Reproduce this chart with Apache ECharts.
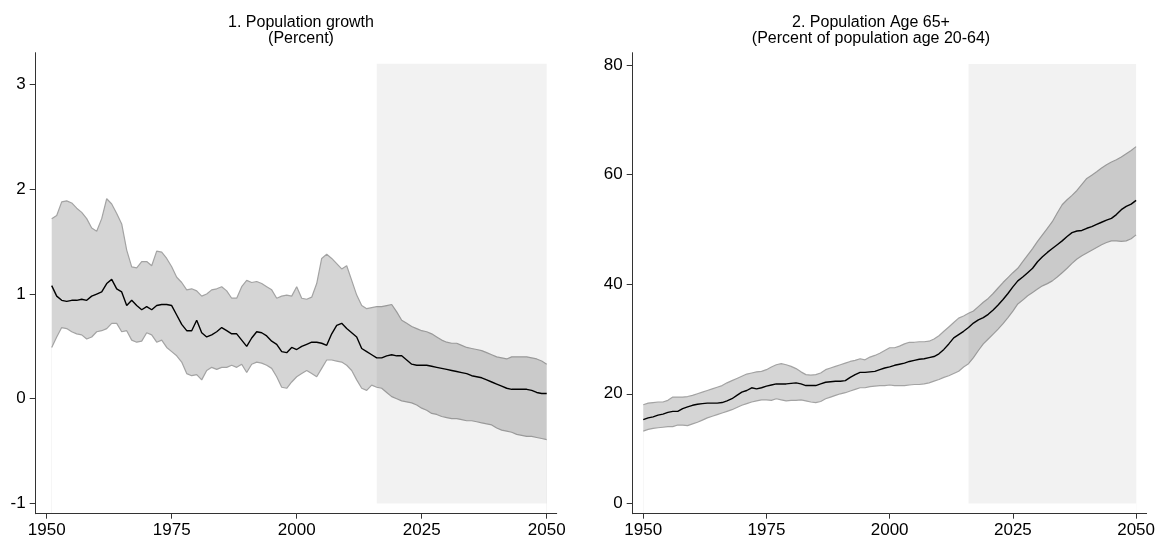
<!DOCTYPE html>
<html><head><meta charset="utf-8">
<script src="https://cdn.jsdelivr.net/npm/echarts@6/dist/echarts.min.js"></script>
<style>html,body{margin:0;padding:0;background:#fff}#c{width:1158px;height:539px}</style>
</head><body><div id="c"></div>
<script>
// Panel 1: population growth (percent), 1951-2050
const yearsGrowth = [];
for (let y = 1951; y <= 2050; y++) yearsGrowth.push(y);
const growthMean = [1.08,0.98,0.94,0.93,0.94,0.94,0.95,0.94,0.98,1.00,1.02,1.10,1.14,1.05,1.02,0.89,0.94,0.89,0.85,0.88,
0.85,0.89,0.90,0.90,0.89,0.80,0.71,0.65,0.65,0.75,0.63,0.59,0.61,0.64,0.68,0.65,0.62,0.62,0.56,0.50,
0.58,0.64,0.63,0.60,0.55,0.52,0.45,0.44,0.49,0.47,0.50,0.52,0.54,0.54,0.53,0.51,0.62,0.70,0.72,0.67,
0.63,0.59,0.48,0.45,0.42,0.39,0.39,0.41,0.42,0.41,0.41,0.37,0.33,0.32,0.32,0.32,0.31,0.30,0.29,0.28,
0.27,0.26,0.25,0.24,0.22,0.21,0.20,0.18,0.16,0.14,0.12,0.10,0.09,0.09,0.09,0.09,0.08,0.06,0.05,0.05];
const growthUpper = [1.72,1.75,1.88,1.89,1.87,1.82,1.78,1.72,1.63,1.60,1.72,1.91,1.86,1.77,1.67,1.42,1.26,1.25,1.31,1.31,
1.27,1.41,1.40,1.34,1.26,1.16,1.11,1.04,1.05,1.03,0.98,1.00,1.04,1.05,1.07,1.03,0.96,0.96,1.07,1.13,
1.11,1.12,1.10,1.07,1.04,0.96,0.98,0.99,0.98,1.07,0.96,0.95,0.97,1.10,1.34,1.38,1.34,1.29,1.24,1.27,
1.13,0.99,0.89,0.86,0.87,0.88,0.88,0.89,0.90,0.83,0.75,0.72,0.69,0.67,0.65,0.64,0.62,0.59,0.56,0.54,
0.53,0.53,0.51,0.49,0.48,0.47,0.46,0.44,0.42,0.40,0.39,0.38,0.40,0.40,0.40,0.40,0.39,0.38,0.36,0.33];
const growthLower = [0.49,0.59,0.68,0.67,0.64,0.62,0.61,0.57,0.59,0.64,0.65,0.67,0.72,0.72,0.64,0.65,0.56,0.54,0.55,0.63,
0.61,0.54,0.56,0.49,0.45,0.41,0.35,0.24,0.22,0.23,0.18,0.27,0.30,0.28,0.30,0.30,0.32,0.30,0.33,0.25,
0.33,0.35,0.34,0.32,0.29,0.21,0.11,0.10,0.16,0.21,0.24,0.27,0.24,0.21,0.29,0.37,0.37,0.36,0.35,0.32,
0.27,0.18,0.10,0.08,0.13,0.11,0.10,0.06,0.02,0.00,-0.02,-0.03,-0.04,-0.06,-0.09,-0.11,-0.14,-0.15,-0.17,-0.18,
-0.19,-0.19,-0.20,-0.21,-0.21,-0.22,-0.23,-0.24,-0.25,-0.28,-0.30,-0.31,-0.32,-0.34,-0.35,-0.36,-0.36,-0.37,-0.38,-0.39];

// Panel 2: population age 65+ (percent of population age 20-64), 1950-2050
const yearsOld = [];
for (let y = 1950; y <= 2050; y++) yearsOld.push(y);
const oldMean = [15.3,15.6,15.8,16.1,16.3,16.6,16.8,16.8,17.3,17.6,17.9,18.1,18.2,18.3,18.3,18.3,18.4,18.7,19.1,19.7,
20.3,20.6,21.1,20.9,21.1,21.4,21.6,21.8,21.8,21.8,21.9,22.0,21.8,21.5,21.5,21.5,21.8,22.1,22.2,22.3,
22.3,22.4,23.0,23.5,23.9,23.9,24.0,24.1,24.4,24.7,24.9,25.2,25.4,25.6,25.9,26.1,26.3,26.4,26.6,26.8,
27.3,28.1,29.1,30.2,30.8,31.4,32.1,32.9,33.5,33.9,34.5,35.3,36.2,37.2,38.3,39.5,40.6,41.3,42.1,42.9,
44.1,45.0,45.8,46.5,47.2,47.9,48.7,49.4,49.7,49.8,50.2,50.5,50.9,51.3,51.7,52.0,52.7,53.6,54.2,54.6,55.3];
const oldUpper = [18.0,18.3,18.4,18.5,18.5,18.8,19.4,19.4,19.4,19.5,19.7,20.0,20.3,20.6,20.9,21.2,21.5,22.0,22.4,22.8,
23.2,23.6,23.8,24.0,24.1,24.4,24.9,25.3,25.5,25.3,25.0,24.6,24.0,23.5,23.4,23.5,23.8,24.4,24.7,25.0,
25.3,25.6,25.9,26.1,26.4,26.2,26.7,27.0,27.4,27.9,28.4,28.4,28.7,29.1,29.4,29.4,29.5,29.5,29.6,30.0,
30.6,31.4,32.2,33.0,33.8,34.2,34.7,35.1,35.9,36.7,37.4,38.3,39.3,40.3,41.2,42.1,42.9,44.1,45.3,46.5,
47.8,49.0,50.2,51.4,53.0,54.5,55.4,56.2,57.1,58.2,59.3,59.9,60.5,61.2,61.8,62.3,62.7,63.2,63.8,64.4,65.1];
const oldLower = [13.2,13.5,13.7,13.8,13.9,14.0,14.0,14.3,14.3,14.2,14.5,14.8,15.2,15.6,15.9,16.2,16.5,16.8,17.1,17.5,
17.9,18.2,18.5,18.7,18.9,18.9,18.8,19.1,18.9,18.7,18.8,18.8,18.9,18.7,18.5,18.4,18.6,19.1,19.4,19.7,
20.0,20.2,20.5,20.8,21.1,21.1,21.3,21.4,21.5,21.5,21.6,21.5,21.5,21.5,21.6,21.7,21.7,21.8,22.0,22.3,
22.6,23.0,23.3,23.7,24.1,24.9,25.5,26.6,27.9,29.1,30.0,30.9,31.8,32.8,33.9,35.1,36.4,37.1,37.9,38.5,
39.1,39.7,40.1,40.6,41.3,42.1,42.9,43.8,44.6,45.2,45.7,46.2,46.7,47.2,47.6,47.9,47.9,47.8,47.9,48.3,49.0];

const xTicks = [1950, 1975, 2000, 2025, 2050];
const growthTicks = [-1, 0, 1, 2, 3];
const oldTicks = [0, 20, 40, 60, 80];
const forecastStart = 2016, forecastEnd = 2050;

const pairs = (xs, ys) => xs.map((x, i) => [x, ys[i]]);

const FONT = 'Liberation Sans, Arial, sans-serif';
const AX = '#333';
const BAND = '#d5d5d5', EDGE = '#a3a3a3';

function xAxisCfg(idx, min, max) {
  return {
    type: 'value', gridIndex: idx, min: min, max: max, z: 10,
    axisLine: {show: true, onZero: false, lineStyle: {color: AX, width: 1}},
    axisTick: {show: true, length: 5, lineStyle: {color: AX}, customValues: xTicks},
    axisLabel: {color: '#000', fontSize: 17, fontFamily: FONT, margin: 8, customValues: xTicks,
                formatter: v => String(v)},
    splitLine: {show: false}
  };
}
function yAxisCfg(idx, min, max, ticks) {
  return {
    type: 'value', gridIndex: idx, min: min, max: max, z: 10,
    axisLine: {show: true, onZero: false, lineStyle: {color: AX, width: 1}},
    axisTick: {show: true, length: 6, lineStyle: {color: AX}, customValues: ticks},
    axisLabel: {color: '#000', fontSize: 17, fontFamily: FONT, margin: 10, customValues: ticks,
                formatter: v => String(v)},
    splitLine: {show: false}
  };
}
function bandSeries(idx, xs, mean, up, lo, top, bottom) {
  return [
    {type: 'line', xAxisIndex: idx, yAxisIndex: idx, data: pairs(xs, up),
     symbol: 'none', lineStyle: {width: 0, opacity: 0}, areaStyle: {color: BAND, opacity: 1, origin: 'start'},
     silent: true, z: 2},
    {type: 'line', xAxisIndex: idx, yAxisIndex: idx, data: pairs(xs, lo),
     symbol: 'none', lineStyle: {width: 0, opacity: 0}, areaStyle: {color: '#ffffff', opacity: 1, origin: 'start'},
     silent: true, z: 2},
    {type: 'line', xAxisIndex: idx, yAxisIndex: idx, data: pairs(xs, up),
     symbol: 'none', lineStyle: {color: EDGE, width: 1.2}, silent: true, z: 3},
    {type: 'line', xAxisIndex: idx, yAxisIndex: idx, data: pairs(xs, lo),
     symbol: 'none', lineStyle: {color: EDGE, width: 1.2}, silent: true, z: 3},
    {type: 'line', xAxisIndex: idx, yAxisIndex: idx, data: [],
     symbol: 'none', silent: true, z: 4,
     markArea: {silent: true, z: 4, itemStyle: {color: 'rgba(0,0,0,0.05)'},
       data: [[{coord: [forecastStart, top]}, {coord: [forecastEnd, bottom]}]]}},
    {type: 'line', xAxisIndex: idx, yAxisIndex: idx, data: pairs(xs, mean),
     symbol: 'none', lineStyle: {color: '#000', width: 1.4}, silent: true, z: 5}
  ];
}

const chart = echarts.init(document.getElementById('c'), null, {renderer: 'canvas'});
chart.setOption({
  animation: false,
  backgroundColor: '#fff',
  title: [
    {text: '1. Population growth\n(Percent)', left: 296, top: 10, textAlign: 'center',
     textStyle: {fontSize: 16, fontWeight: 'normal', color: '#000', fontFamily: FONT, lineHeight: 16}},
    {text: '2. Population Age 65+\n(Percent of population age 20-64)', left: 866, top: 10, textAlign: 'center',
     textStyle: {fontSize: 16, fontWeight: 'normal', color: '#000', fontFamily: FONT, lineHeight: 16}}
  ],
  grid: [
    {left: 35.7, right: 601.3, top: 52.7, bottom: 25.3},
    {left: 632.7, right: 8.7, top: 52.7, bottom: 25.3}
  ],
  xAxis: [xAxisCfg(0, 1947.8, 2052), xAxisCfg(1, 1947.86, 2052.14)],
  yAxis: [yAxisCfg(0, -1.098, 3.305, growthTicks), yAxisCfg(1, -1.88, 82.24, oldTicks)],
  series: [].concat(
    bandSeries(0, yearsGrowth, growthMean, growthUpper, growthLower, 3.2, -1),
    bandSeries(1, yearsOld, oldMean, oldUpper, oldLower, 80.2, 0)
  )
});
</script></body></html>
